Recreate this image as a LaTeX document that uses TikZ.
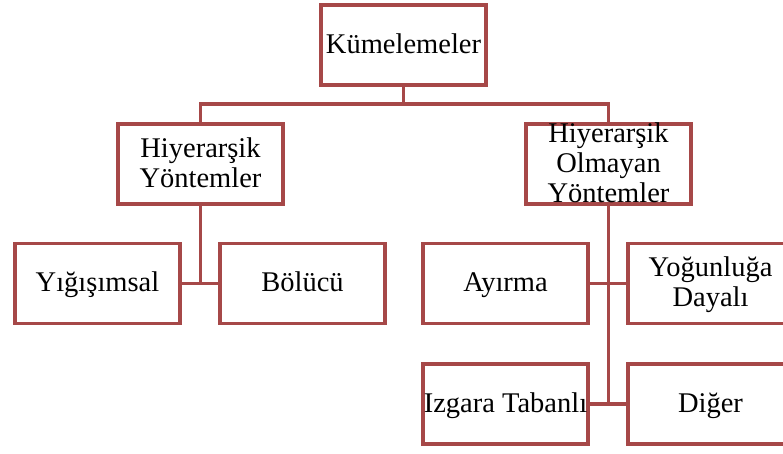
\documentclass[tikz,border=0pt]{standalone}
\usepackage{fontspec}
\setmainfont{Liberation Serif}
\usepackage{xcolor}
\usepackage{tikz}
\usetikzlibrary{calc,positioning}
\definecolor{boxred}{RGB}{166,72,72}
\tikzset{
  kbox/.style = {draw=boxred, line width=3.8pt, fill=white, rectangle,
                 minimum width=165pt, minimum height=80pt, inner sep=0pt,
                 font=\fontsize{28.5}{30}\selectfont},
  link/.style = {draw=boxred, line width=3.8pt},
}
% every line gets the same height and depth, so the block sits like the original
\newcommand{\kstrut}{\rule[-10pt]{0pt}{36pt}}
\newcommand{\boxtext}[1]{%
  \vbox to 0pt{\vss
    \hsize=165pt \parindent=0pt \parskip=0pt
    \baselineskip=30pt \lineskiplimit=-\maxdimen
    \centering \everypar{\kstrut}#1\par
  \vss}}
\begin{document}
\begin{tikzpicture}[x=1pt, y=-1pt]
  \useasboundingbox (0,0) rectangle (783,453);
  % top
  \node[kbox] (kume) at (403.5, 45) {\boxtext{Kümelemeler}};
  % second row
  \node[kbox] (hiy)  at (200.5,164) {\boxtext{Hiyerarşik\\Yöntemler}};
  \node[kbox] (hiyo) at (608.5,164) {\boxtext{Hiyerarşik\\Olmayan\\Yöntemler}};
  % third row
  \node[kbox] (yig)  at ( 97.5,283.5) {\boxtext{Yığışımsal}};
  \node[kbox] (bol)  at (302.5,283.5) {\boxtext{Bölücü}};
  \node[kbox] (ayi)  at (505.5,283.5) {\boxtext{Ayırma}};
  \node[kbox] (yog)  at (710.5,283.5) {\boxtext{Yoğunluğa\\Dayalı}};
  % fourth row
  \node[kbox] (izg)  at (505.5,404) {\boxtext{Izgara Tabanlı}};
  \node[kbox] (dig)  at (710.5,404) {\boxtext{Diğer}};

  \coordinate (bus) at (403.5,104);
  \draw[link] (kume.south) -- (bus);
  \draw[link] (hiy.north) |- (bus) -| (hiyo.north);
  \draw[link] (hiy.south) -- (hiy.south |- yig.east);
  \draw[link] (yig.east) -- (bol.west);
  \draw[link] (hiyo.south) -- (hiyo.south |- izg.east);
  \draw[link] (ayi.east) -- (yog.west);
  \draw[link] (izg.east) -- (dig.west);
\end{tikzpicture}
\end{document}
